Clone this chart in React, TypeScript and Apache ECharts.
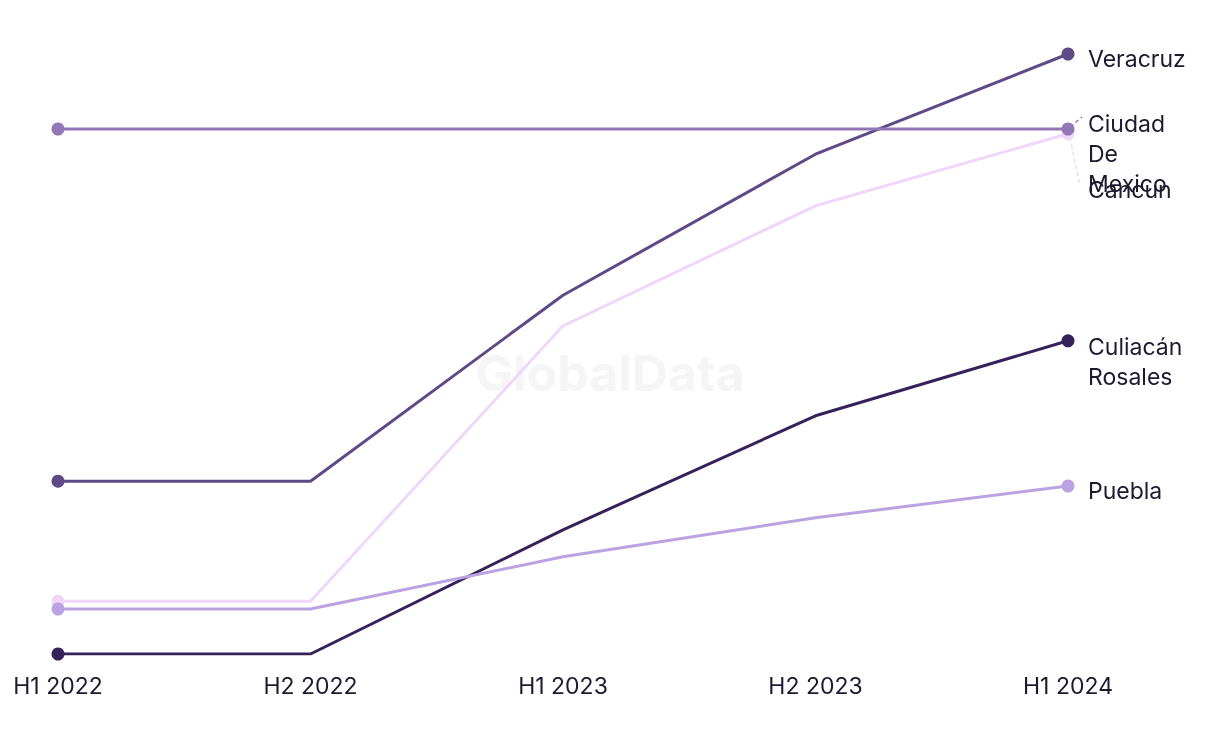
import React, { useEffect, useRef } from "react";
import * as echarts from "echarts";

const categories = ["H1 2022", "H2 2022", "H1 2023", "H2 2023", "H1 2024"];
const seriesNames = ["Veracruz", "Ciudad De Mexico", "Cancun", "Culiacán Rosales", "Puebla"];
const labelTexts = ["Veracruz", "Ciudad\nDe\nMexico", "Cancun", "Culiacán\nRosales", "Puebla"];
const veracruz = [28.8, 28.8, 59.8, 83.3, 100];
const ciudadDeMexico = [87.5, 87.5, 87.5, 87.5, 87.5];
const cancun = [8.8, 8.8, 54.7, 74.7, 86.7];
const culiacanRosales = [0, 0, 20.7, 39.7, 52.2];
const puebla = [7.5, 7.5, 16.2, 22.7, 28];
const values = [veracruz, ciudadDeMexico, cancun, culiacanRosales, puebla];
const colors = ["#5e4a87", "#9177b5", "#efd7fb", "#36225a", "#bba2e2"];
const labelShift = [5, 25, 56, 21, 5];

export default function App() {
  const ref = useRef<HTMLDivElement>(null);
  useEffect(() => {
    const chart = echarts.init(ref.current!, null, { renderer: "svg" });
    const textColor = "#1c1a2e";
    const font = "Inter, sans-serif";
    chart.setOption({
      animation: false,
      grid: { left: 58, right: 152, top: 54, bottom: 90 },
      graphic: [
        {
          type: "text",
          left: "center",
          top: 348,
          z: -10,
          style: {
            text: "GlobalData",
            fill: "#f5f5f7",
            font: "bold 50px Inter, sans-serif",
          },
        },
      ],
      xAxis: {
        type: "category",
        data: categories,
        boundaryGap: false,
        axisLine: { show: false },
        axisTick: { show: false },
        axisLabel: {
          color: textColor,
          fontFamily: font,
          fontSize: 23,
          margin: 20,
        },
        splitLine: { show: false },
      },
      yAxis: {
        type: "value",
        min: 0,
        max: 100,
        show: false,
        splitLine: { show: false },
      },
      series: seriesNames.map((name, i) => ({
        name,
        type: "line",
        data: values[i],
        color: colors[i],
        lineStyle: { width: 3, color: colors[i] },
        itemStyle: { color: colors[i] },
        symbol: "circle",
        symbolSize: (_v: any, p: any) => (p.dataIndex === 0 || p.dataIndex === values[i].length - 1 ? 13 : 0),
        showAllSymbol: true,
        z: i === 1 ? 3 : 2,
        endLabel: {
          show: true,
          formatter: () => labelTexts[i],
          color: textColor,
          fontFamily: font,
          fontSize: 23,
          lineHeight: 30,
          distance: 20,
        },
        labelLayout: () => ({ dy: labelShift[i] }),
      })),
    });

    // leader lines for shifted labels, positioned through the chart's scales
    const last = categories.length - 1;
    const pC = chart.convertToPixel({ gridIndex: 0 }, [last, ciudadDeMexico[last]]) as number[];
    const pK = chart.convertToPixel({ gridIndex: 0 }, [last, cancun[last]]) as number[];
    const zr = chart.getZr();
    zr.add(
      new echarts.graphic.Line({
        shape: { x1: pC[0] + 2, y1: pC[1] - 2, x2: pC[0] + 14, y2: pC[1] - 12 },
        style: { stroke: colors[1], lineWidth: 1.5, lineDash: [4, 3] },
        z: 10,
      })
    );
    zr.add(
      new echarts.graphic.Line({
        shape: { x1: pK[0] + 2, y1: pK[1] + 4, x2: pK[0] + 12, y2: pK[1] + 52 },
        style: { stroke: colors[2], lineWidth: 1.5, lineDash: [4, 3] },
        z: 10,
      })
    );
    return () => chart.dispose();
  }, []);
  return (
    <div
      ref={ref}
      style={{ position: "fixed", left: 0, top: 0, width: 1220, height: 744 }}
    />
  );
}
